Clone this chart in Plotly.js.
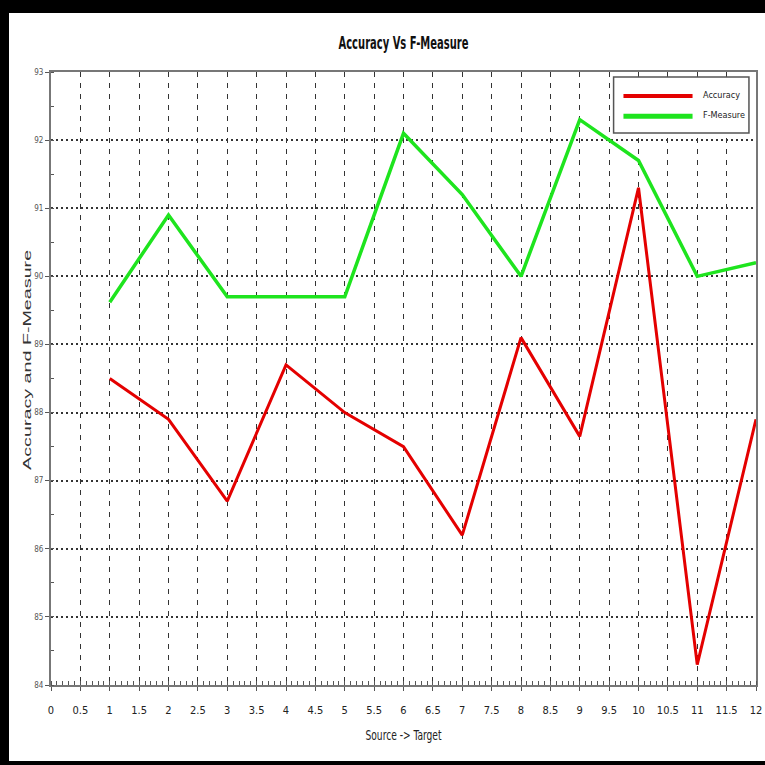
<!DOCTYPE html>
<html>
<head>
<meta charset="utf-8">
<script src="https://cdn.plot.ly/plotly-3.0.1.min.js"></script>
<style>
  html, body { margin:0; padding:0; width:765px; height:765px; background:#000; overflow:hidden; }
  #chart { position:absolute; left:9px; top:13px; width:756px; height:748px; background:#fff; }
</style>
</head>
<body>
<div id="chart"></div>
<script>
const sourceTarget = [1, 2, 3, 4, 5, 6, 7, 8, 9, 10, 11, 12];
const accuracy = [88.5, 87.9, 86.7, 88.7, 88.0, 87.5, 86.2, 89.1, 87.65, 91.3, 84.3, 87.9];
const fMeasure = [89.62, 90.9, 89.7, 89.7, 89.7, 92.1, 91.2, 90.0, 92.3, 91.7, 90.0, 90.2];
const xTickVals = [0,0.5,1,1.5,2,2.5,3,3.5,4,4.5,5,5.5,6,6.5,7,7.5,8,8.5,9,9.5,10,10.5,11,11.5,12];
const xTickText = ['0','0.5','1','1.5','2','2.5','3','3.5','4','4.5','5','5.5','6','6.5','7','7.5','8','8.5','9','9.5','10','10.5','11','11.5','12'];
const yTickVals = [84,85,86,87,88,89,90,91,92,93];
const yTickText = ['84','85','86','87','88','89','90','91','92','93'];
const seriesNames = ['Accuracy', 'F-Measure'];
const yTitle = 'Accuracy and F-Measure';

const narrow = "Liberation Sans Narrow, DejaVu Sans Condensed, Arial Narrow, sans-serif";
const red = '#e40000';
const green = '#1ee41e';

const traces = [
  { x: sourceTarget, y: accuracy, name: seriesNames[0], type: 'scatter', mode: 'lines',
    line: { color: red, width: 3 } },
  { x: sourceTarget, y: fMeasure, name: seriesNames[1], type: 'scatter', mode: 'lines',
    line: { color: green, width: 3.5 } }
];

const layout = {
  width: 756, height: 748,
  margin: { l: 42, r: 9, t: 59, b: 76 },
  paper_bgcolor: '#fff', plot_bgcolor: '#fff',
  showlegend: false,
  title: { text: 'Accuracy Vs F-Measure', font: { family: narrow, size: 17, color: '#111', weight: 'bold' },
           x: 0.5, xref: 'paper', y: 1 - 30/748, yref: 'container', yanchor: 'middle' },
  xaxis: {
    range: [0, 12], tickmode: 'array', tickvals: xTickVals, ticktext: xTickText,
    showgrid: true, gridcolor: '#333', gridwidth: 1, griddash: '5px,6px',
    showline: true, linecolor: '#777', linewidth: 2, mirror: true,
    ticks: 'outside', ticklen: 4, tickcolor: '#555', tickwidth: 1,
    ticklabelstandoff: 10,
    minor: { dtick: 0.1, ticks: 'inside', ticklen: 4, tickcolor: '#555', showgrid: false },
    tickfont: { family: narrow, size: 11, color: '#222' },
    zeroline: false,
    title: { text: 'Source -> Target', font: { family: narrow, size: 14, color: '#222' }, standoff: 14 }
  },
  yaxis: {
    range: [84, 93], tickmode: 'array', tickvals: yTickVals, ticktext: yTickText,
    showgrid: true, gridcolor: '#333', gridwidth: 2, griddash: '2px,3px',
    showline: true, linecolor: '#777', linewidth: 2, mirror: true,
    ticks: 'outside', ticklen: 4, tickcolor: '#555', tickwidth: 1,
    ticklabelstandoff: 0,
    minor: { dtick: 0.5, ticks: 'inside', ticklen: 3, tickcolor: '#555', showgrid: false },
    tickfont: { family: narrow, size: 8, color: '#555' },
    zeroline: false
  },
  shapes: [
    { type: 'rect', xref: 'paper', yref: 'paper', x0: 0.798, x1: 0.990, y0: 0.9005, y1: 0.9918,
      line: { color: '#555', width: 1.5 }, fillcolor: '#fff', layer: 'above' },
    { type: 'line', xref: 'paper', yref: 'paper', x0: 0.812, x1: 0.910, y0: 0.961, y1: 0.961,
      line: { color: red, width: 4 }, layer: 'above' },
    { type: 'line', xref: 'paper', yref: 'paper', x0: 0.812, x1: 0.910, y0: 0.928, y1: 0.928,
      line: { color: green, width: 5 }, layer: 'above' }
  ],
  annotations: [
    { xref: 'paper', yref: 'paper', x: 0.922, y: 0.963, text: seriesNames[0], showarrow: false,
      xanchor: 'left', yanchor: 'middle', font: { family: narrow, size: 9, color: '#222' } },
    { xref: 'paper', yref: 'paper', x: 0.922, y: 0.930, text: seriesNames[1], showarrow: false,
      xanchor: 'left', yanchor: 'middle', font: { family: narrow, size: 9, color: '#222' } },
    { xref: 'paper', yref: 'paper', x: -0.034, y: 0.530, text: yTitle, showarrow: false, textangle: -90,
      xanchor: 'center', yanchor: 'middle', font: { family: 'Liberation Sans, Arial, sans-serif', size: 11.5, color: '#333' } }
  ]
};

function fitText(sel, len) {
  document.querySelectorAll('#chart ' + sel).forEach(function (t) {
    t.setAttribute('textLength', len);
    t.setAttribute('lengthAdjust', 'spacingAndGlyphs');
  });
}

Plotly.newPlot('chart', traces, layout, { displayModeBar: false, staticPlot: true }).then(function () {
  fitText('.gtitle', 130);
  fitText('.xtitle', 76);
  fitText('.annotation[data-index="2"] text', 220);
});
</script>
</body>
</html>
